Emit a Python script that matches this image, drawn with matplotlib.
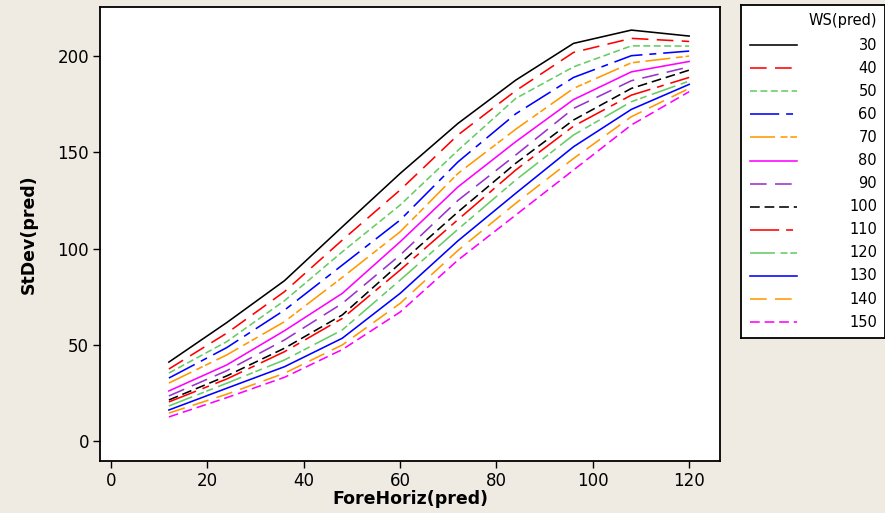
import matplotlib.pyplot as plt
from matplotlib.lines import Line2D

plt.rcParams['font.family'] = ['DejaVu Sans']
plt.rcParams['lines.scale_dashes'] = False

# ---------------- data ----------------
fore_horiz = [12, 24, 36, 48, 60, 72, 84, 96, 108, 120]
ws_levels = [30, 40, 50, 60, 70, 80, 90, 100, 110, 120, 130, 140, 150]

stdev = {
    30:  [41.0, 61.5, 83.3, 111.3, 139.0, 165.0, 187.5, 206.6, 213.5, 210.4],
    40:  [37.4, 56.0, 77.6, 104.4, 130.4, 159.0, 182.0, 201.9, 209.2, 207.6],
    50:  [35.3, 51.6, 72.9, 98.3, 122.6, 151.0, 178.0, 194.4, 205.3, 205.2],
    60:  [32.7, 48.5, 68.0, 91.4, 114.8, 145.0, 170.0, 188.9, 200.2, 202.6],
    70:  [30.1, 44.7, 62.0, 85.0, 108.7, 139.0, 162.0, 183.2, 196.5, 200.0],
    80:  [26.0, 39.5, 57.3, 76.7, 103.5, 132.0, 155.5, 177.4, 191.8, 197.2],
    90:  [23.4, 36.5, 52.5, 71.5, 96.6, 125.0, 148.6, 172.8, 187.2, 194.4],
    100: [21.3, 33.8, 48.2, 65.5, 92.3, 119.0, 144.3, 166.8, 183.2, 192.7],
    110: [20.3, 32.2, 46.4, 63.7, 88.8, 115.0, 140.8, 163.6, 179.7, 188.9],
    120: [18.2, 30.0, 42.1, 57.7, 83.6, 110.0, 135.6, 159.0, 176.3, 187.0],
    130: [16.1, 27.4, 38.6, 53.4, 76.7, 104.0, 128.7, 152.9, 172.3, 185.3],
    140: [14.5, 24.3, 35.2, 49.9, 71.5, 99.0, 123.5, 146.8, 168.5, 183.2],
    150: [12.5, 22.5, 33.1, 47.5, 67.0, 94.0, 117.4, 140.8, 164.2, 181.5],
}

# Minitab-like colours and dash patterns
colors = ['black', '#FF0000', '#66CC66', '#0000FF', '#FF9900', '#FF00FF', '#9933CC',
          'black', '#FF0000', '#66CC66', '#0000FF', '#FF9900', '#FF00FF']
long_dash = (0, (12, 6))
short_dash = (0, (5, 2.5))
dash_dot = (0, (21, 5, 5, 5))
dash_dot_dot = (0, (18, 4, 5, 2, 5, 4))
med_dash = (0, (7, 3.5))
styles = ['-', long_dash, short_dash, dash_dot, dash_dot_dot, '-', long_dash,
          med_dash, dash_dot, dash_dot_dot, '-', long_dash, med_dash]

bg = '#EFEBE2'
fig = plt.figure(figsize=(8.85, 5.13), dpi=100, facecolor=bg)
ax = fig.add_axes([100/885, 1 - 461/513, 620/885, 454/513])

for ws, c, ls in zip(ws_levels, colors, styles):
    ax.plot(fore_horiz, stdev[ws], color=c, linestyle=ls, linewidth=1.15)

ax.set_xlim(-2.3, 126.4)
ax.set_ylim(-10.4, 225.5)
ax.set_xticks([0, 20, 40, 60, 80, 100, 120])
ax.set_yticks([0, 50, 100, 150, 200])
ax.tick_params(direction='out', length=5, width=1, labelsize=12, colors='black', pad=3)
ax.tick_params(top=False, right=False)
for sp in ax.spines.values():
    sp.set_linewidth(1.3)
ax.set_xlabel('ForeHoriz(pred)', fontsize=12.5, fontweight='bold', labelpad=0)
ax.set_ylabel('StDev(pred)', fontsize=12.5, fontweight='bold', labelpad=14)

# ---------------- legend box ----------------
lax = fig.add_axes([741/885, 1 - 338/513, 144/885, 333/513])
lax.set_xlim(0, 144)
lax.set_ylim(333, 0)
lax.set_xticks([])
lax.set_yticks([])
for sp in lax.spines.values():
    sp.set_linewidth(1.3)
lax.text(136, 16, 'WS(pred)', ha='right', va='center', fontsize=10.5)
for i, (ws, c, ls) in enumerate(zip(ws_levels, colors, styles)):
    y = 40 + i * 23.1
    lax.add_line(Line2D([9, 56], [y, y], color=c, linestyle=ls, linewidth=1.15))
    lax.text(136, y, str(ws), ha='right', va='center', fontsize=10.5)

fig.savefig('out.png', dpi=100, facecolor=bg)
